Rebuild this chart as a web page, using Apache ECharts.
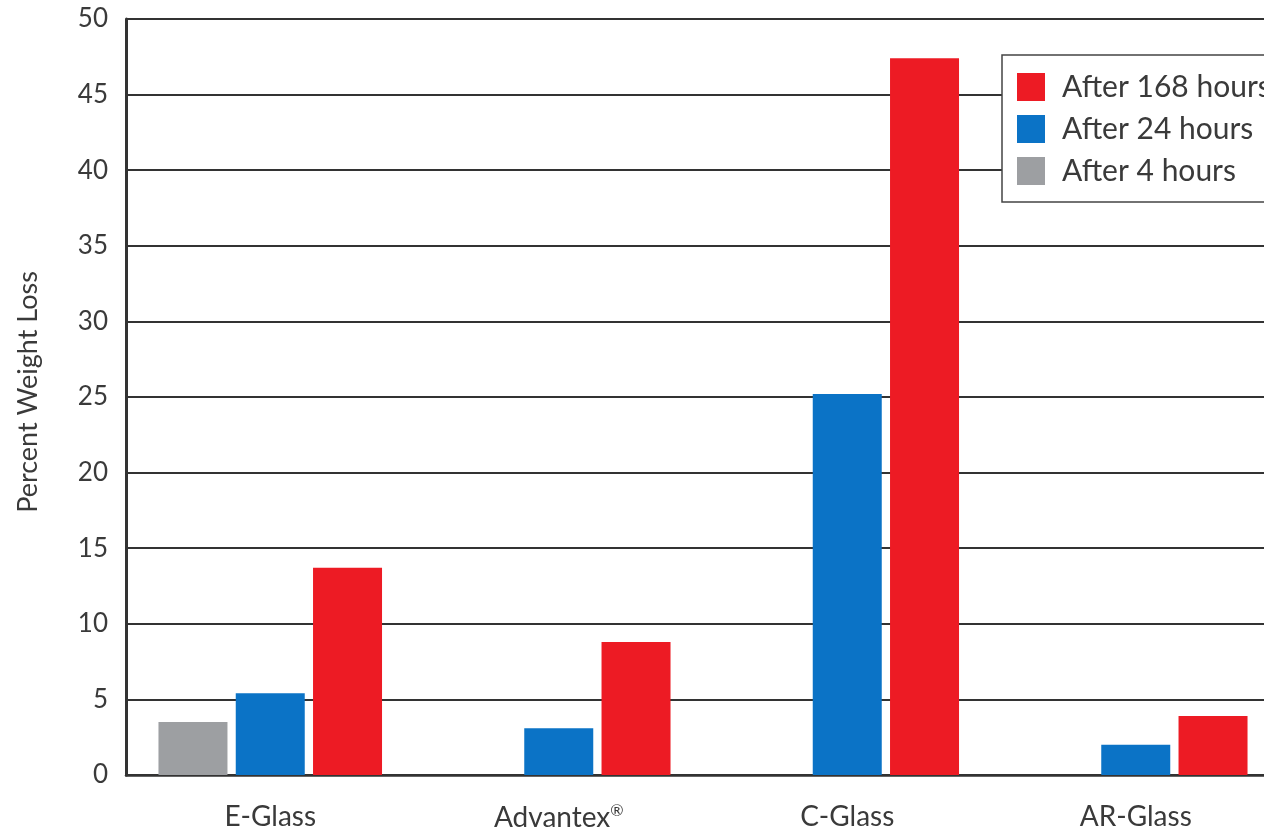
<!DOCTYPE html>
<html>
<head>
<meta charset="utf-8">
<title>Percent Weight Loss</title>
<script src="https://cdn.jsdelivr.net/npm/echarts@6/dist/echarts.min.js"></script>
<style>
  html, body { margin: 0; padding: 0; background: #fff; }
  #chart { width: 1264px; height: 832px; }
</style>
</head>
<body>
<div id="chart"></div>
<script>
// Glass types along the x axis
const categories = ['E-Glass', 'Advantex®', 'C-Glass', 'AR-Glass'];

// Percent weight loss per exposure time (null = not measured)
const after4Hours = [3.5, null, null, null];
const after24Hours = [5.4, 3.1, 25.2, 2.0];
const after168Hours = [13.7, 8.8, 47.4, 3.9];

// Value axis ticks
const yTicks = [0, 5, 10, 15, 20, 25, 30, 35, 40, 45, 50];

const FONT = 'Lato, "Open Sans", sans-serif';
const TEXT = '#3a3a3a';

const chart = echarts.init(document.getElementById('chart'));

chart.setOption({
  animation: false,
  backgroundColor: '#ffffff',
  // plot runs a little past the right edge of the canvas
  grid: { left: 126, width: 1154, top: 19, bottom: 57, outerBoundsMode: 'none', containLabel: false },
  legend: {
    orient: 'vertical',
    left: 1002,
    top: 55,
    icon: 'rect',
    itemWidth: 28,
    itemHeight: 28,
    itemGap: 12,
    padding: [17, 20, 16, 15],
    backgroundColor: '#ffffff',
    borderColor: '#444',
    borderWidth: 1.5,
    data: ['After 168 hours', 'After 24 hours', 'After 4 hours'],
    textStyle: {
      fontFamily: FONT,
      fontSize: 30,
      color: TEXT,
      padding: [0, 0, 0, 12]
    }
  },
  xAxis: {
    type: 'category',
    data: categories,
    axisTick: { show: false },
    axisLine: { lineStyle: { color: '#333', width: 2.5 } },
    axisLabel: {
      margin: 28,
      fontFamily: FONT,
      fontSize: 28,
      color: TEXT,
      formatter: function (v) {
        if (v.endsWith('®')) {
          return v.slice(0, -1) + '{sup|®}';
        }
        return v;
      },
      rich: {
        sup: { fontFamily: FONT, fontSize: 16, color: TEXT, padding: [0, 0, 14, 0] }
      }
    }
  },
  yAxis: {
    type: 'value',
    min: yTicks[0],
    max: yTicks[yTicks.length - 1],
    interval: yTicks[1] - yTicks[0],
    name: 'Percent Weight Loss',
    nameLocation: 'middle',
    nameGap: 84,
    nameTextStyle: { fontFamily: FONT, fontSize: 27, color: TEXT, padding: [0, 0, 0, 10] },
    axisLine: { show: true, lineStyle: { color: '#333', width: 3 } },
    axisTick: { show: false },
    axisLabel: {
      margin: 18,
      fontFamily: FONT,
      fontSize: 26,
      color: TEXT
    },
    splitLine: { lineStyle: { color: '#333', width: 2 } }
  },
  series: [
    {
      name: 'After 4 hours',
      type: 'bar',
      data: after4Hours,
      barWidth: 69,
      barGap: '12%',
      itemStyle: { color: '#9d9fa2' }
    },
    {
      name: 'After 24 hours',
      type: 'bar',
      data: after24Hours,
      barWidth: 69,
      barGap: '12%',
      itemStyle: { color: '#0b73c6' }
    },
    {
      name: 'After 168 hours',
      type: 'bar',
      data: after168Hours,
      barWidth: 69,
      barGap: '12%',
      itemStyle: { color: '#ed1b24' }
    }
  ]
});
</script>
</body>
</html>
